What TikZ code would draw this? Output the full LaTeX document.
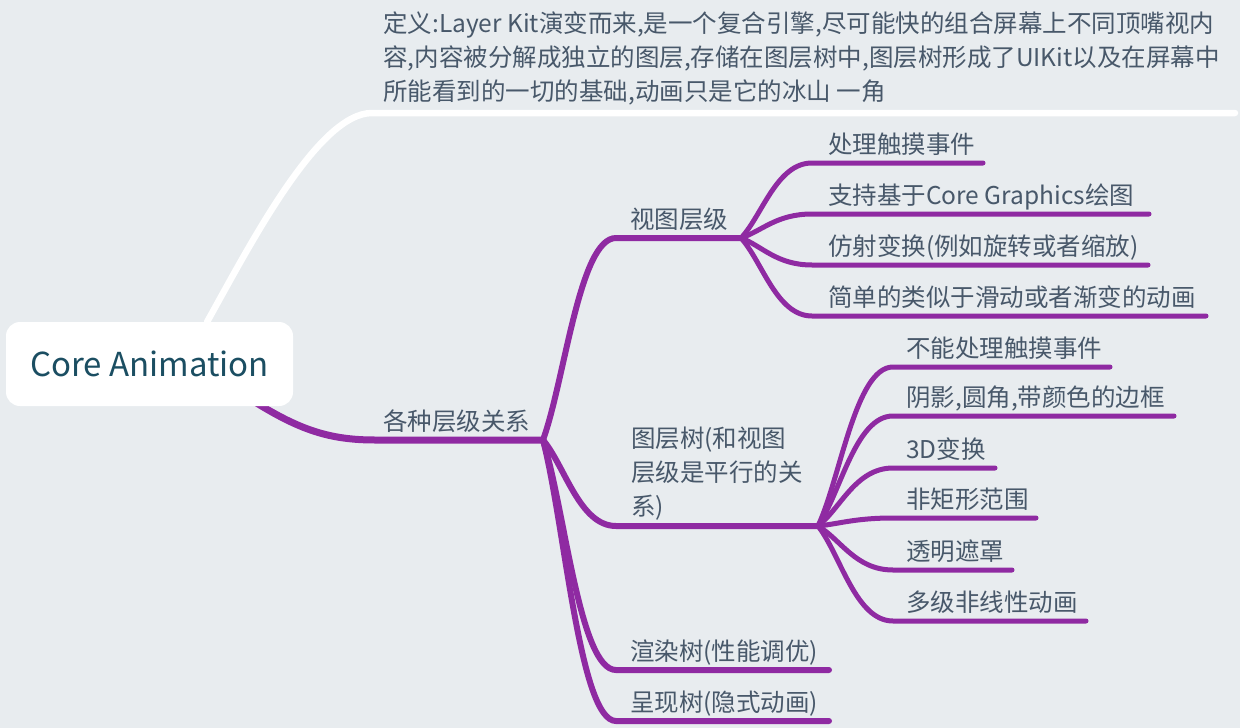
\documentclass[tikz,border=0pt]{standalone}
\usepackage{fontspec}
\setmainfont{Noto Sans CJK SC}
\usetikzlibrary{calc}
\definecolor{bg}{HTML}{E8ECEF}
\definecolor{pur}{HTML}{8F2AA2}
\definecolor{txt}{HTML}{48586A}
\definecolor{roottxt}{HTML}{1B4E62}
\tikzset{
  lbl/.style={anchor=base west, inner sep=0pt, text=txt, font=\fontsize{24.5}{34}\selectfont},
  mlbl/.style={lbl, align=left},
  rootbox/.style={fill=white, rounded corners=14pt, minimum width=287pt, minimum height=84pt, inner sep=0pt, text=roottxt, font=\fontsize{33}{40}\selectfont},
  curvy/.style={to path={.. controls ($(\tikztostart)!0.3!(\tikztotarget)$) and ($(\tikztotarget)!0.5!(\tikztostart |- \tikztotarget)$) .. (\tikztotarget)}},
  la/.style={draw=pur, line cap=round, line width=7pt},
  lb/.style={draw=pur, line cap=round, line width=6pt},
  lc/.style={draw=pur, line cap=round, line width=5pt},
  lw/.style={draw=white, line cap=round, line width=6.5pt},
}
\begin{document}
\begin{tikzpicture}[x=1pt, y=-1pt]
\fill[bg] (0,0) rectangle (1240,728);
\useasboundingbox (0,0) rectangle (1240,728);

% coordinates
\coordinate (rw) at (207,322);
\coordinate (rp) at (255,402);
\coordinate (ds) at (372,113); \coordinate (de) at (1235,113);
\coordinate (gs) at (375,440); \coordinate (ge) at (543,440);
\coordinate (vs) at (616,238); \coordinate (ve) at (741,238);
\coordinate (ls) at (616,526); \coordinate (le) at (818,526);
\coordinate (rs) at (616,670); \coordinate (re) at (829,670);
\coordinate (ps) at (616,721); \coordinate (pe) at (829,721);
\coordinate (v1s) at (812,163); \coordinate (v1e) at (983,163);
\coordinate (v2s) at (812,214); \coordinate (v2e) at (1149,214);
\coordinate (v3s) at (812,265); \coordinate (v3e) at (1148,265);
\coordinate (v4s) at (812,316); \coordinate (v4e) at (1206,316);
\coordinate (l1s) at (893,367); \coordinate (l1e) at (1110,367);
\coordinate (l2s) at (893,416); \coordinate (l2e) at (1174,416);
\coordinate (l3s) at (893,468); \coordinate (l3e) at (995,468);
\coordinate (l4s) at (893,518); \coordinate (l4e) at (1036,518);
\coordinate (l5s) at (893,570); \coordinate (l5e) at (1012,570);
\coordinate (l6s) at (893,621); \coordinate (l6e) at (1086,621);

% connectors
\draw[lw] (rw) .. controls (250,245) and (318,113) .. (ds) -- (de);
\draw[la] (rp) .. controls (300,430) and (330,440) .. (gs) -- (ge);
\draw[lb] (ge) to[curvy] (vs) -- (ve);
\draw[lb] (ge) to[curvy] (ls) -- (le);
\draw[lb] (ge) to[curvy] (rs) -- (re);
\draw[lb] (ge) to[curvy] (ps) -- (pe);
\foreach \i in {1,2,3,4} {\draw[lc] (ve) to[curvy] (v\i s) -- (v\i e);}
\foreach \i in {1,2,3,4,5,6} {\draw[lc] (le) to[curvy] (l\i s) -- (l\i e);}

% root
\node[rootbox] (root) at (149.5,364) {Core Animation};

% labels
\node[mlbl] (deft) at (383,100) {定义:Layer Kit演变而来,是一个复合引擎,尽可能快的组合屏幕上不同顶嘴视内\\容,内容被分解成独立的图层,存储在图层树中,图层树形成了UIKit以及在屏幕中\\所能看到的一切的基础,动画只是它的冰山 一角};
\node[lbl] (gt) at (383,430) {各种层级关系};
\node[lbl] (vt) at (630,228) {视图层级};
\node[mlbl] (lt) at (631,515) {图层树(和视图\\层级是平行的关\\系)};
\node[lbl] (rt) at (630,660) {渲染树(性能调优)};
\node[lbl] (pt) at (630,711) {呈现树(隐式动画)};
\node[lbl] (v1t) at (828,153) {处理触摸事件};
\node[lbl] (v2t) at (828,204) {支持基于Core Graphics绘图};
\node[lbl] (v3t) at (828,255) {仿射变换(例如旋转或者缩放)};
\node[lbl] (v4t) at (828,306) {简单的类似于滑动或者渐变的动画};
\node[lbl] (l1t) at (906,357) {不能处理触摸事件};
\node[lbl] (l2t) at (906,406) {阴影,圆角,带颜色的边框};
\node[lbl] (l3t) at (906,458) {3D变换};
\node[lbl] (l4t) at (906,508) {非矩形范围};
\node[lbl] (l5t) at (906,560) {透明遮罩};
\node[lbl] (l6t) at (906,611) {多级非线性动画};
\end{tikzpicture}
\end{document}
